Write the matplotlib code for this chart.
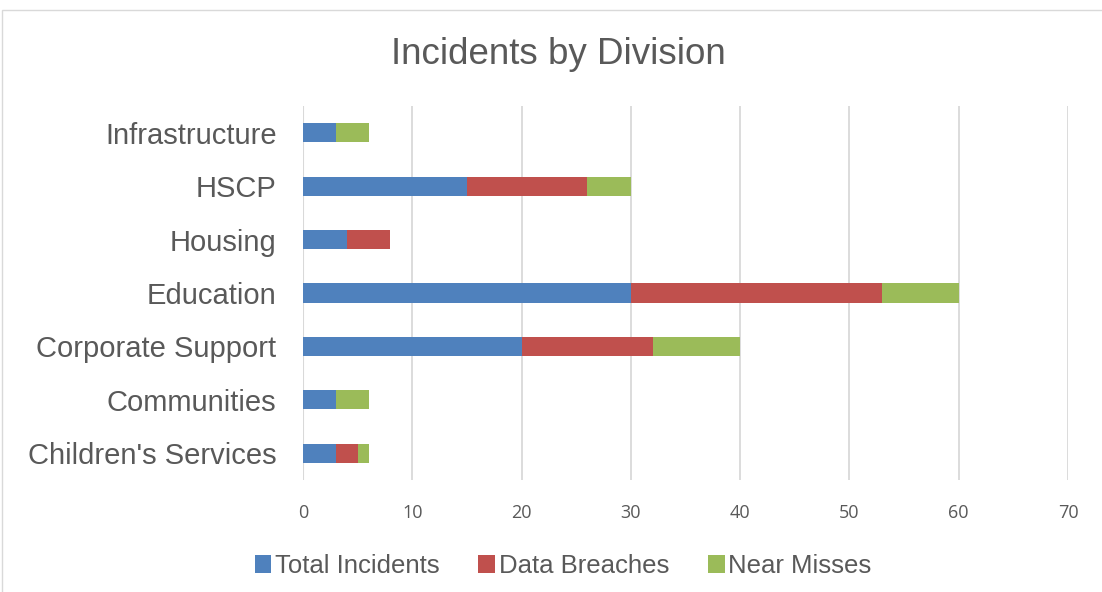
import matplotlib.pyplot as plt
from matplotlib.patches import Rectangle

divisions = ["Children's Services", "Communities", "Corporate Support", "Education",
             "Housing", "HSCP", "Infrastructure"]
total_incidents = [3, 3, 20, 30, 4, 15, 3]
data_breaches = [2, 0, 12, 23, 4, 11, 0]
near_misses = [1, 3, 8, 7, 0, 4, 3]

plt.rcParams['font.family'] = ['Liberation Sans', 'DejaVu Sans']
txt = '#595959'

fig = plt.figure(figsize=(11.02, 5.92), dpi=100)
ax = fig.add_axes([303 / 1102, 1 - 480 / 592, (1068 - 303) / 1102, (480 - 106) / 592])

y = range(len(divisions))
left2 = [a + b for a, b in zip(total_incidents, data_breaches)]
ax.barh(y, total_incidents, height=0.36, color='#4F81BD', label='Total Incidents', zorder=3)
ax.barh(y, data_breaches, left=total_incidents, height=0.36, color='#C0504D',
        label='Data Breaches', zorder=3)
ax.barh(y, near_misses, left=left2, height=0.36, color='#9BBB59',
        label='Near Misses', zorder=3)

ax.set_xlim(0, 70)
ax.set_ylim(-0.5, len(divisions) - 0.5)
ax.set_xticks(range(0, 71, 10))
ax.set_yticks(list(y))
ax.set_yticklabels(divisions, fontsize=21, color=txt)
ax.tick_params(axis='x', labelsize=13, colors=txt, length=0, pad=17)
ax.tick_params(axis='y', length=0, pad=19)
for lbl in ax.get_xticklabels():
    lbl.set_fontfamily(['Open Sans', 'DejaVu Sans'])
ax.grid(axis='x', color='#D9D9D9', linewidth=1.3, zorder=0)
for s in ax.spines.values():
    s.set_visible(False)
ax.axvline(0, color='#D9D9D9', linewidth=1.5, zorder=1)

fig.text(0.507, 1 - 54 / 592, 'Incidents by Division', fontsize=26.5, color=txt,
         ha='center', va='center')

fig.legend(loc='center', bbox_to_anchor=(0.511, 1 - 566 / 592), ncol=3, frameon=False,
           fontsize=18.5, labelcolor=txt, handlelength=0.65, handleheight=0.65,
           handletextpad=0.15, columnspacing=1.5)

fig.patches.append(Rectangle((2 / 1102, -0.1), 1.2, 1 - 10 / 592 + 0.1,
                             transform=fig.transFigure, fill=False,
                             edgecolor='#D9D9D9', linewidth=1))

fig.savefig('out.png', dpi=100)
